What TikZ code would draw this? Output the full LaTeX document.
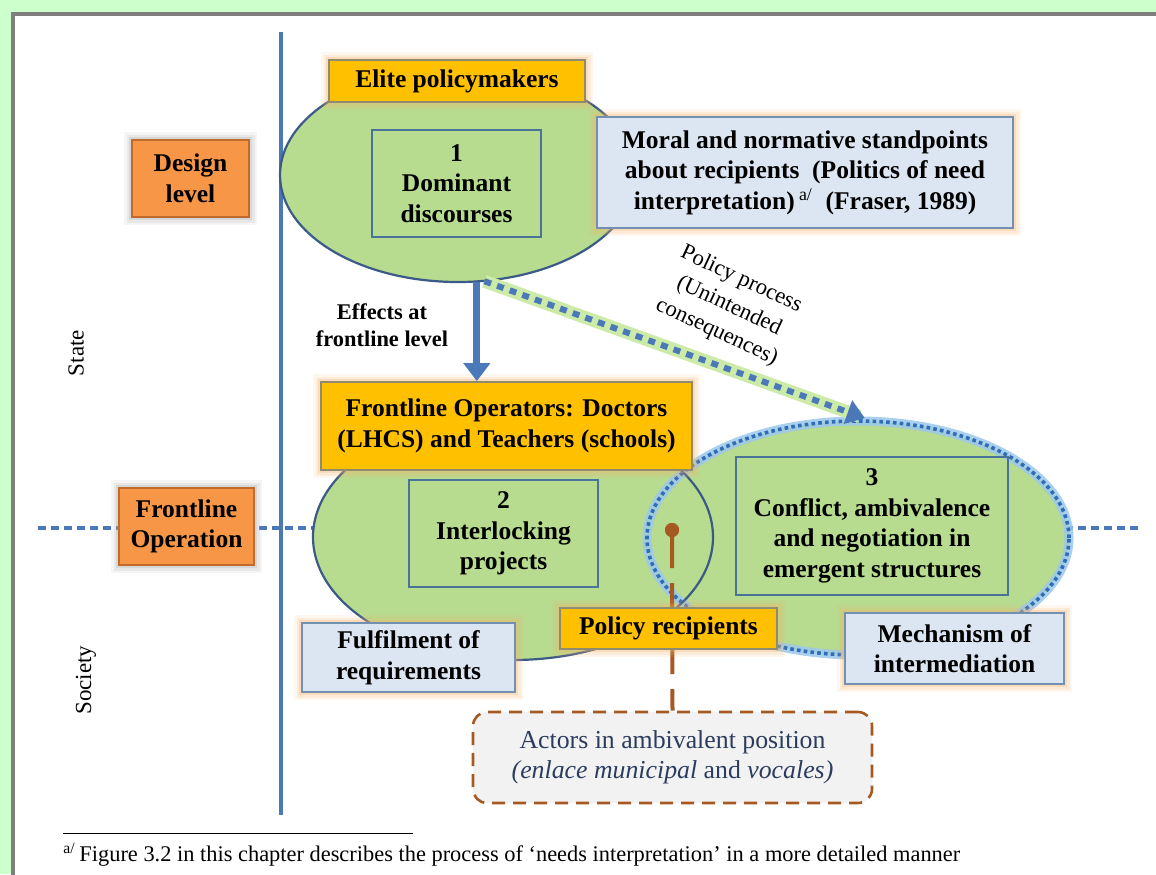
\documentclass[tikz,border=0pt]{standalone}
\usepackage{fontspec}
\setmainfont{Liberation Serif}
\usetikzlibrary{shapes.geometric,arrows.meta}

\definecolor{mint}{HTML}{CCFFCC}
\definecolor{framegrey}{HTML}{7F7F7F}
\definecolor{axisblue}{HTML}{4A78B8}
\definecolor{leaf}{HTML}{B7DB8F}
\definecolor{leafedge}{HTML}{3B5B86}
\definecolor{boxedge}{HTML}{4B7399}
\definecolor{amber}{HTML}{FFC000}
\definecolor{amberedge}{HTML}{8F8B6E}
\definecolor{tangerine}{HTML}{F79646}
\definecolor{tangerineedge}{HTML}{C06A2B}
\definecolor{paleblue}{HTML}{DCE6F2}
\definecolor{paleblueedge}{HTML}{7390B3}
\definecolor{peach}{HTML}{F6B26B}
\definecolor{dotblue}{HTML}{2F6DB5}
\definecolor{haloblue}{HTML}{9CC8EE}
\definecolor{halogreen}{HTML}{CDEBA8}
\definecolor{rust}{HTML}{A65A22}
\definecolor{ash}{HTML}{F2F2F3}
\definecolor{slate}{HTML}{2B3C5C}

\newcommand{\lblfont}{\fontsize{12.75}{15.25}\selectfont\bfseries}
\newcommand{\effont}{\fontsize{11.2}{13.5}\selectfont\bfseries}
\newcommand{\sidefont}{\fontsize{11.5}{13}\selectfont}

\begin{document}
\begin{tikzpicture}[x=0.5pt,y=-0.5pt,
  glow/.style={preaction={draw=#1,draw opacity=0.10,line width=8pt},
               preaction={draw=#1,draw opacity=0.16,line width=5.5pt},
               preaction={draw=#1,draw opacity=0.25,line width=3pt}},
  levelbox/.style={draw=tangerineedge,line width=1pt,fill=tangerine,glow=gray!70,
                   align=center,inner sep=0pt,font=\lblfont},
  tagbox/.style={draw=amberedge,line width=0.9pt,fill=amber,glow=peach,
                 align=center,inner sep=0pt,font=\lblfont},
  notebox/.style={draw=paleblueedge,line width=1pt,fill=paleblue,glow=peach,
                  align=center,inner sep=0pt,font=\lblfont},
  numbox/.style={draw=boxedge,line width=1.1pt,align=center,inner sep=0pt,font=\lblfont},
  blob/.style={ellipse,fill=leaf,inner sep=0pt},
  blobedge/.style={draw=leafedge,line width=1.1pt},
  axis/.style={axisblue,line width=1.6pt},
  divider/.style={axisblue,line width=2.2pt,dash pattern=on 4pt off 2.5pt},
  pinline/.style={rust,line width=2pt,dash pattern=on 19pt off 7.5pt},
]
\useasboundingbox (0,0) rectangle (1156,874);

% page background and frame
\fill[mint] (0,0) rectangle (1156,874);
\draw[framegrey,line width=2pt,fill=white] (13,14) rectangle (1200,920);

% axes: state/society divider and design/frontline divider
\coordinate (vtop) at (281,32);
\coordinate (vbot) at (281,815);
\coordinate (hleft) at (38,528);
\coordinate (hright) at (1140,528);
\draw[divider] (hleft) -- (hright);
\draw[axis] (vtop) -- (vbot);

% side labels
\node[rotate=90,font=\sidefont] (state) at (76,353) {State};
\node[rotate=90,font=\sidefont] (society) at (86,680) {Society};

% ellipses
\node[blob,minimum width=178pt,minimum height=107pt] (e1) at (458,175) {};
\draw[blobedge] (e1.center) ellipse [x radius=89pt,y radius=53.5pt];
\node[blob,minimum width=200pt,minimum height=123pt] (e2) at (513,537) {};
\node[blob,minimum width=211pt,minimum height=117pt] (e3) at (858,538) {};
\draw[haloblue,line width=4.5pt,opacity=0.85] (e3.center) ellipse [x radius=105.5pt,y radius=58.5pt];
\draw[dotblue,line width=1.8pt,dash pattern=on 1.8pt off 1.6pt] (e3.center) ellipse [x radius=105.5pt,y radius=58.5pt];
\draw[blobedge] (e2.center) ellipse [x radius=100pt,y radius=61.5pt];

% numbered boxes inside the ellipses
\node[numbox,minimum width=84.5pt,minimum height=53.5pt] (b1) at (456.5,183.5) {1\\Dominant\\discourses};
\node[numbox,minimum width=94.5pt,minimum height=53.5pt] (b2) at (503.5,533.5) {2\\Interlocking\\projects};
\node[numbox,minimum width=136pt,minimum height=69pt] (b3) at (872,526) {3\\Conflict, ambivalence\\and negotiation in\\emergent structures};

% level boxes
\node[levelbox,minimum width=58.5pt,minimum height=38.5pt] (design) at (190.5,178.5) {Design\\level};
\node[levelbox,minimum width=67.5pt,minimum height=38.5pt] (fopr) at (186.5,526.5) {Frontline\\Operation};

% actor labels
\node[tagbox,minimum width=128pt,minimum height=21pt] (elite) at (457,81) {Elite policymakers};
\node[notebox,minimum width=208pt,minimum height=55.5pt] (moral) at (805,172.5)
  {Moral and normative standpoints\\about recipients\ \ (Politics of need\\interpretation)\,\textsuperscript{\mdseries a/}\ \ (Fraser, 1989)};
\node[tagbox,minimum width=185.5pt,minimum height=44pt] (fop) at (506.5,426)
  {Frontline Operators: Doctors\\(LHCS) and Teachers (schools)};

% arrows between levels
\draw[axisblue,line width=3.5pt,-{Triangle[width=13pt,length=9pt]}] (e1.280) -- (e1.280 |- fop.north);
\draw[halogreen,line width=6.5pt,shorten >=7pt] (e1.284) -- (e3.83);
\draw[axisblue,line width=3pt,dash pattern=on 3.5pt off 3.2pt,shorten >=4pt,
      -{Triangle[width=12pt,length=9pt]}] (e1.284) -- (e3.83);

\node[font=\effont,align=center] (eff) at (382,325) {Effects at\\frontline level};
\node[rotate=-25,align=center,font=\fontsize{11.3}{14.5}\selectfont] (pp) at (729,306)
  {Policy process\\(Unintended\\consequences)};

% policy recipients pin
\node[circle,fill=rust,minimum size=7pt,inner sep=0pt] (pin) at (672,530) {};
\node[draw=rust,line width=1.3pt,dash pattern=on 6.5pt off 4pt,rounded corners=7pt,fill=ash,
      minimum width=199.5pt,minimum height=45.5pt,align=center,text=slate,
      font=\fontsize{12.9}{15}\selectfont] (actors) at (672.5,757.5)
  {Actors in ambivalent position\\\textit{(enlace municipal} and \textit{vocales)}};
\draw[pinline] (pin.center) -- (actors.north);
\node[circle,fill=rust,minimum size=7pt,inner sep=0pt] at (pin) {};

\node[tagbox,minimum width=108.5pt,minimum height=20.5pt] (recip) at (668.5,628.5) {Policy recipients};
\node[notebox,minimum width=106.5pt,minimum height=34.5pt] (fulfil) at (408.5,657.5) {Fulfilment of\\requirements};
\node[notebox,minimum width=109.5pt,minimum height=35.5pt] (mech) at (954.5,648.5) {Mechanism of\\intermediation};

% footnote
\coordinate (rulea) at (63,833);
\coordinate (ruleb) at (413,833);
\draw[line width=0.5pt] (rulea) -- (ruleb);
\node[anchor=base west,inner sep=0pt,font=\fontsize{11.2}{13}\selectfont] (fn) at (63,861)
  {\textsuperscript{a/}\,Figure 3.2 in this chapter describes the process of ‘needs interpretation’ in a more detailed manner};
\end{tikzpicture}
\end{document}
